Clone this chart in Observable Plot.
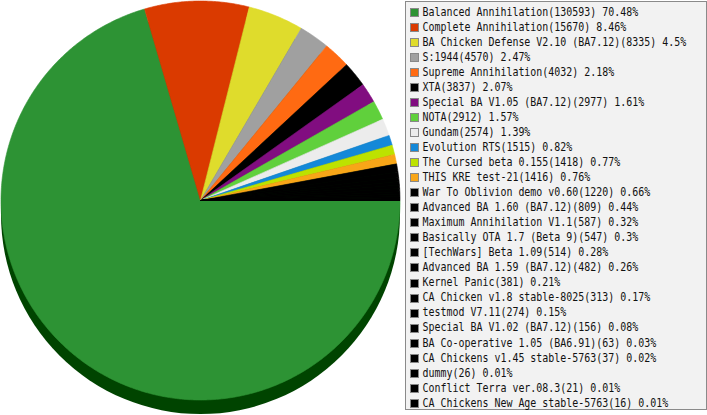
<!DOCTYPE html>
<html>
<head>
<meta charset="utf-8">
<script src="https://cdn.jsdelivr.net/npm/d3@7"></script>
<script src="https://cdn.jsdelivr.net/npm/@observablehq/plot@0.6"></script>
<style>
  html, body { margin: 0; padding: 0; background: #fff; }
  #chart svg { display: block; }
</style>
</head>
<body>
<div id="chart"></div>
<script>
// ---- data ----
const categories = [
  "Balanced Annihilation",
  "Complete Annihilation",
  "BA Chicken Defense V2.10 (BA7.12)",
  "S:1944",
  "Supreme Annihilation",
  "XTA",
  "Special BA V1.05 (BA7.12)",
  "NOTA",
  "Gundam",
  "Evolution RTS",
  "The Cursed beta 0.155",
  "THIS KRE test-21",
  "War To Oblivion demo v0.60",
  "Advanced BA 1.60 (BA7.12)",
  "Maximum Annihilation V1.1",
  "Basically OTA 1.7 (Beta 9)",
  "[TechWars] Beta 1.09",
  "Advanced BA 1.59 (BA7.12)",
  "Kernel Panic",
  "CA Chicken v1.8 stable-8025",
  "testmod V7.11",
  "Special BA V1.02 (BA7.12)",
  "BA Co-operative 1.05 (BA6.91)",
  "CA Chickens v1.45 stable-5763",
  "dummy",
  "Conflict Terra ver.08.3",
  "CA Chickens New Age stable-5763"
];
const counts = [130593, 15670, 8335, 4570, 4032, 3837, 2977, 2912, 2574, 1515, 1418, 1416, 1220, 809, 587, 547, 514, 482, 381, 313, 274, 156, 63, 37, 26, 21, 16];
const percents = ["70.48", "8.46", "4.5", "2.47", "2.18", "2.07", "1.61", "1.57", "1.39", "0.82", "0.77", "0.76", "0.66", "0.44", "0.32", "0.3", "0.28", "0.26", "0.21", "0.17", "0.15", "0.08", "0.03", "0.02", "0.01", "0.01", "0.01"];
const colors = ["#2d9334", "#da3a00", "#dfdc2c", "#a0a0a0", "#ff6a12", "#000000", "#810d80", "#60d03c", "#ececec", "#1488d8", "#bde200", "#f8a618", "#000000", "#000000", "#000000", "#000000", "#000000", "#000000", "#000000", "#000000", "#000000", "#000000", "#000000", "#000000", "#000000", "#000000", "#000000"];

// ---- layout ----
const W = 707, H = 415;
const cx = 200, cy = 200, R = 199.5, depth = 14;
const legend = {x1: 405, x2: 706, y1: 1, y2: 409, row0: 11.8, rowH: 15.04, textX: 422.5};
const fontPx = 12, advance = 6;               // target 6px per character
const squeeze = advance / (fontPx * 0.602);   // DejaVu Sans Mono advance = 0.602em

// slices
const total = d3.sum(counts);
const slicePts = [];
let acc = 0;
counts.forEach((v, i) => {
  const a0 = acc / total * 2 * Math.PI;
  acc += v;
  const a1 = acc / total * 2 * Math.PI;
  const n = Math.max(2, Math.ceil((a1 - a0) / (Math.PI / 360)));
  slicePts.push({id: i, x: cx, y: cy, c: colors[i]});
  for (let k = 0; k <= n; k++) {
    const a = a0 + (a1 - a0) * k / n;
    slicePts.push({id: i, x: cx + R * Math.cos(a), y: cy + R * Math.sin(a), c: colors[i]});
  }
  slicePts.push({id: i, x: cx, y: cy, c: colors[i]});
});

const rows = categories.map((name, i) => ({
  i,
  label: `${name}(${counts[i]}) ${percents[i]}%`,
  c: colors[i],
  y: legend.row0 + legend.rowH * i
}));

const plot = Plot.plot({
  width: W,
  height: H,
  margin: 0,
  x: {type: "identity"},
  y: {type: "identity"},
  color: {type: "identity"},
  axis: null,
  marks: [
    // 3D side
    Plot.dot([0], {x: () => cx, y: () => cy + depth, r: R, fill: "#004400", stroke: "none"}),
    // slices
    Plot.line(slicePts, {x: "x", y: "y", z: "id", fill: "c", stroke: "c", strokeWidth: 0.6, curve: "linear"}),
    // legend box
    Plot.rect([0], {x1: () => legend.x1 + 0.5, x2: () => legend.x2 + 0.5, y1: () => legend.y1 + 0.5, y2: () => legend.y2 + 0.5, fill: "#f2f2f2", stroke: "#8a8a8a", strokeWidth: 1}),
    // swatches
    Plot.rect(rows, {x1: () => 410.5, x2: () => 418.5, y1: d => Math.round(d.y) - 3.5, y2: d => Math.round(d.y) + 4.5, fill: "c", stroke: "#888", strokeWidth: 1}),
    Plot.text(rows, {x: () => legend.textX, y: "y", text: "label", textAnchor: "start", lineAnchor: "middle", fontSize: fontPx, fontFamily: "DejaVu Sans Mono", fill: "#111", className: "legtext"})
  ]
});

// horizontally condense the legend text around its left edge
const g = plot.querySelector("g.legtext");
if (g) {
  g.setAttribute("transform", `matrix(${squeeze},0,0,1,${legend.textX * (1 - squeeze)},0)`);
}

document.getElementById("chart").appendChild(plot);
</script>
</body>
</html>
